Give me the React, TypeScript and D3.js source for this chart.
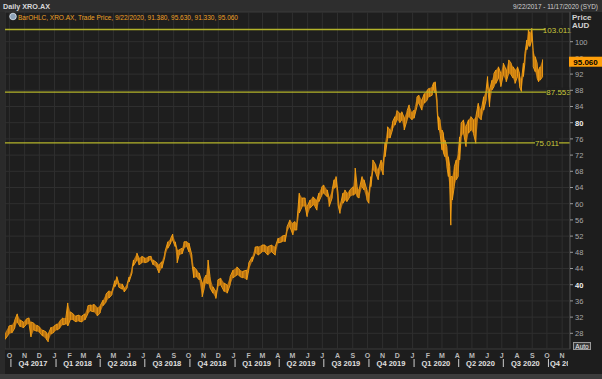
import React from "react";
import * as d3 from "d3";

// ---- data ----
const START = new Date(2017, 8, 22);
const END = new Date(2020, 10, 17);
// days since 9/22/2017
const DAY = [0,8,14,20,25,31,37,43,49,53,59,65,71,77,84,88,94,100,106,112,118,124,128,133,139,145,151,157,163,169,175,181,188,194,200,206,212,218,224,228,232,239,243,249,253,259,262,269,273,279,285,292,298,302,310,314,320,326,332,338,342,347,351,355,361,365,371,375,381,385,391,396,402,406,410,414,418,424,430,434,440,447,453,459,465,473,479,485,493,497,504,510,516,524,530,536,544,551,557,565,571,575,581,587,591,595,600,606,612,616,622,628,632,636,640,646,650,657,661,667,671,675,679,683,689,693,697,703,710,714,718,722,728,732,738,742,746,750,756,761,767,771,775,780,785,790,795,799,805,809,814,820,824,830,834,840,844,850,855,861,865,871,874,877,881,884,887,891,894,897,901,904,907,909,912,916,920,924,927,930,935,940,945,950,955,960,965,971,976,981,984,988,993,997,1001,1006,1011,1016,1022,1027,1032,1036,1040,1045,1049,1053,1057,1060,1064,1067,1070,1074,1077,1081,1085,1088,1091,1096];
const LOW = [26.5,27.8,28.1,29.3,30.8,29.6,29.3,30.1,30.3,27.1,28.8,28.5,28.1,27.3,26.6,25.9,27.8,28.3,28.8,29.3,30.1,30.3,29.8,31.3,31.3,30.8,31.0,30.8,31.3,32.8,33.5,33.3,32.3,33.0,34.8,35.7,36.7,37.5,39.5,40.5,39.4,38.9,38.2,39.2,40.7,42.9,44.7,46.1,44.9,45.4,45.4,45.7,46.1,44.9,44.1,42.9,44.1,46.9,49.0,50.3,51.0,49.4,45.4,47.3,47.6,49.0,49.4,48.1,45.4,41.7,41.9,41.2,37.0,39.0,40.4,40.3,39.2,37.9,36.6,39.5,39.9,38.3,37.9,39.9,41.7,42.4,42.0,41.7,41.2,43.6,45.7,47.8,47.3,48.1,48.1,47.3,48.1,47.3,50.3,50.6,50.6,53.1,54.3,52.3,53.5,53.5,57.7,59.3,59.3,56.8,58.9,59.7,59.3,58.4,60.5,62.1,62.6,61.7,59.3,61.4,63.8,64.2,59.7,57.6,60.1,60.9,60.5,61.7,62.1,62.5,61.7,61.4,64.2,63.4,60.9,60.1,64.2,68.3,67.5,65.9,68.7,67.1,71.6,76.1,76.2,78.2,79.4,80.7,80.0,80.7,78.2,80.7,81.5,80.7,81.1,84.0,84.8,83.1,84.8,85.6,86.4,86.8,88.1,87.3,83.1,78.2,77.4,73.3,72.5,71.6,69.1,66.7,63.4,54.7,60.9,64.2,65.9,66.7,70.8,76.5,77.4,74.1,77.4,78.2,77.4,74.9,81.5,80.7,83.1,85.6,88.9,83.9,88.1,88.9,89.7,91.0,88.9,91.8,90.1,92.2,91.8,91.0,89.7,91.4,88.9,87.7,91.4,94.7,98.0,99.2,98.8,100.4,93.8,92.6,91.0,90.1,90.5,91.33];
const HIGH = [28.1,29.8,30.0,31.3,32.8,31.3,30.8,31.5,31.8,30.8,30.5,30.0,29.5,28.8,28.3,27.8,29.5,29.8,30.3,31.1,31.8,31.8,35.5,33.3,32.8,32.3,32.5,32.3,32.8,34.8,35.0,35.2,34.3,34.8,36.2,37.7,38.5,38.3,41.0,42.0,40.4,40.2,39.2,40.2,41.9,44.1,46.1,47.8,46.6,47.0,46.6,46.9,47.0,46.1,45.4,44.9,45.7,48.1,50.6,51.5,52.5,50.6,48.6,48.6,49.0,50.6,50.6,50.3,47.3,44.4,43.6,42.9,40.4,41.5,42.4,46.1,42.0,39.5,38.3,41.2,41.6,40.4,39.9,42.0,43.6,44.4,43.6,43.3,43.6,45.4,46.9,49.3,49.4,49.8,49.8,49.4,49.8,49.4,51.5,52.0,52.2,54.3,56.0,55.2,55.6,55.2,62.6,61.4,61.4,59.3,60.9,61.7,61.2,60.9,62.6,64.2,64.6,63.4,61.4,63.4,65.9,66.7,62.6,59.3,62.6,63.4,62.6,63.4,64.2,68.8,64.2,63.4,66.7,65.9,63.4,62.6,66.7,70.8,69.6,68.3,70.8,70.0,75.0,79.0,78.2,80.2,81.5,83.0,82.3,82.7,81.2,83.0,84.4,82.5,83.1,86.4,86.8,85.6,87.2,88.1,88.5,88.9,89.9,90.1,85.6,81.5,80.7,78.2,77.4,75.7,74.1,71.6,69.1,66.7,66.7,69.1,70.8,72.4,76.5,79.9,80.7,79.0,80.7,81.5,80.7,81.5,84.8,83.1,86.4,88.1,91.4,88.1,90.5,92.2,93.0,93.8,92.2,94.7,93.0,95.5,94.7,93.8,93.0,93.8,92.2,90.5,94.7,97.1,100.4,102.9,102.1,103.3,97.9,96.3,94.7,93.0,93.8,95.63];

const Y_TICKS = [28,32,36,40,44,48,52,56,60,64,68,72,76,80,84,88,92,96,100];
const REF_LEVELS = [103.011, 87.553, 75.011];
const REF_LABEL_X = [557, 558.5, 547];
const LAST_PRICE = 95.06;
const TITLE = "Daily XRO.AX";
const RANGE_TEXT = "9/22/2017 - 11/17/2020 (SYD)";
const LEGEND_TEXT = "BarOHLC, XRO.AX, Trade Price, 9/22/2020, 91.380, 95.630, 91.330, 95.060";

const W = 602, H = 379;
const PL = 5, PR = 570, PT = 12, PB = 349;
const FONT = "'Liberation Sans', Arial, sans-serif";
const ORANGE = "#f7a214";

export default function App() {
  const x = d3.scaleTime().domain([START, END]).range([PL, PR]);
  const y = d3.scaleLinear().domain([28, 100]).range([333.3, 41.7]);
  const pts = DAY.map((d, i) => ({ date: d3.timeDay.offset(START, d), lo: LOW[i], hi: HIGH[i] }));

  const area = d3.area<any>().x(p => x(p.date)).y0(p => y(p.lo)).y1(p => y(p.hi));
  const zig = d3.line<any>().x(p => x(p.date)).y(p => y(p.v));
  const zigPts: any[] = [];
  pts.forEach((p, i) => {
    zigPts.push({ date: p.date, v: i % 2 ? p.lo : p.hi });
    zigPts.push({ date: p.date, v: i % 2 ? p.hi : p.lo });
  });

  const months = d3.timeMonth.range(new Date(2017, 9, 1), new Date(2020, 10, 2));
  const quarters = d3.timeMonth.every(3)!.range(new Date(2017, 9, 1), new Date(2020, 10, 2));

  return (
    <svg width={W} height={H} style={{ position: "fixed", left: 0, top: 0, background: "#1d1d1d" }} fontFamily={FONT}>
      <defs>
        <clipPath id="plot"><rect x={PL} y={PT} width={PR - PL} height={PB - PT} /></clipPath>
        <clipPath id="xaxis"><rect x={0} y={PB} width={568} height={30} /></clipPath>
      </defs>
      {/* header */}
      <rect x={0} y={0} width={W} height={PT} fill="#2e2e2e" />
      <text x={3} y={9} fontSize={8} fontWeight="bold" fill="#d8d8d8" textLength={47} lengthAdjust="spacingAndGlyphs">{TITLE}</text>
      <text x={513} y={9} fontSize={8} fill="#d0d0d0" textLength={85} lengthAdjust="spacingAndGlyphs">{RANGE_TEXT}</text>
      {/* plot bg */}
      <rect x={PL} y={PT} width={PR - PL} height={PB - PT} fill="#1e1e1e" stroke="#3a3a3a" />
      <rect x={0} y={PT} width={PL} height={H - PT} fill="#2a2a2a" />
      <g clipPath="url(#plot)">
        {months.map((m, i) => (
          <line key={"vg" + i} x1={x(m)} x2={x(m)} y1={PT} y2={PB} stroke="#2f2f2f" />
        ))}
        {Y_TICKS.map(t => (
          <line key={"hg" + t} x1={PL} x2={PR} y1={y(t)} y2={y(t)} stroke="#2f2f2f" />
        ))}
        <path d={area(pts) || ""} fill="#b47012" />
        <path d={zig(zigPts) || ""} fill="none" stroke={ORANGE} strokeWidth={0.9} />
        {REF_LEVELS.map((v, i) => (
          <line key={"rl" + i} x1={PL} x2={PR} y1={y(v)} y2={y(v)} stroke="#b3b32a" strokeWidth={1.3} />
        ))}
      </g>
      {REF_LEVELS.map((v, i) => (
        <g key={"rlab" + i}>
          <rect x={REF_LABEL_X[i] - 12} y={y(v) - 4.5} width={24} height={9} fill="#1e1e1e" />
          <text x={REF_LABEL_X[i]} y={y(v) + 3} fontSize={8} fill="#c8c83c" textAnchor="middle">{v.toFixed(3)}</text>
        </g>
      ))}
      {/* legend */}
      <circle cx={13} cy={16.5} r={3.3} fill="#8fa3b8" stroke="#dfe7ef" strokeWidth={0.8} />
      <text x={18} y={20} fontSize={8} fill="#eea025" textLength={220} lengthAdjust="spacingAndGlyphs">{LEGEND_TEXT}</text>
      {/* y axis */}
      <line x1={PR} x2={PR} y1={PT} y2={PB} stroke="#4a4a4a" />
      <text x={572} y={20} fontSize={8} fontWeight="bold" fill="#d0d0d0">Price</text>
      <text x={572} y={28} fontSize={8} fontWeight="bold" fill="#d0d0d0">AUD</text>
      {Y_TICKS.map(t => (
        <g key={"yt" + t}>
          <line x1={PR} x2={PR + 3} y1={y(t)} y2={y(t)} stroke="#9a9a9a" />
          <text x={575} y={y(t) + 2.8} fontSize={7.5} fill={t % 40 === 0 ? "#f0f0f0" : "#a8a8a8"} fontWeight={t % 40 === 0 ? "bold" : "normal"}>{t}</text>
        </g>
      ))}
      <rect x={569} y={y(LAST_PRICE) - 5} width={33} height={10} fill="#ff9f0a" />
      <text x={585.5} y={y(LAST_PRICE) + 3} fontSize={8} fontWeight="bold" fill="#000" textAnchor="middle">{LAST_PRICE.toFixed(3)}</text>
      <rect x={573.5} y={342.5} width={17} height={7} fill="#3a3a3a" stroke="#9a9a9a" />
      <text x={582} y={348.5} fontSize={6.5} fill="#f0f0f0" textAnchor="middle">Auto</text>
      {/* x axis */}
      {months.map((m, i) => (
        <text key={"mt" + i} x={x(m)} y={357.5} fontSize={7} fontWeight="bold" fill="#b8b8b8" textAnchor="middle">{d3.timeFormat("%b")(m)[0]}</text>
      ))}
      <g clipPath="url(#xaxis)">
        {quarters.map((q, i) => {
          const qe = d3.timeMonth.offset(q, 3);
          const a = Math.max(x(q), PL), b = Math.min(x(qe), PR);
          const label = `Q${Math.floor(q.getMonth() / 3) + 1} ${q.getFullYear()}`;
          const narrow = b - a < 40;
          return (
            <g key={"q" + i}>
              <line x1={x(q) + 1.5} x2={x(q) + 1.5} y1={359} y2={367} stroke="#cfcfcf" />
              <text x={narrow ? x(q) + 3 : (a + b) / 2 + 1} y={366} fontSize={7.5} fontWeight="bold" fill="#e0e0e0" textAnchor={narrow ? "start" : "middle"}>{label}</text>
            </g>
          );
        })}
      </g>
      <rect x={0} y={374} width={W} height={5} fill="#3c3c3c" />
    </svg>
  );
}
